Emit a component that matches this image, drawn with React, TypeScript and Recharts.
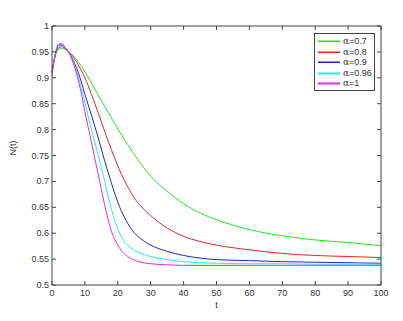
import React from "react";
import { LineChart, Line, XAxis, YAxis, Legend, Label } from "recharts";

const tValues = [0, 1, 2, 3, 4, 5, 6, 7, 8, 9, 10, 12, 14, 16, 17, 18, 19, 20, 21, 22, 23, 25, 27, 30, 35, 40, 45, 50, 60, 70, 80, 90, 100];

const alpha07 = [0.912, 0.942, 0.955, 0.957, 0.955, 0.951, 0.946, 0.939, 0.931, 0.922, 0.912, 0.89, 0.867, 0.845, 0.834, 0.823, 0.812, 0.801, 0.791, 0.781, 0.771, 0.752, 0.734, 0.71, 0.681, 0.657, 0.639, 0.626, 0.607, 0.595, 0.587, 0.582, 0.576];
const alpha08 = [0.912, 0.944, 0.958, 0.96, 0.956, 0.95, 0.944, 0.935, 0.925, 0.913, 0.9, 0.868, 0.833, 0.797, 0.779, 0.762, 0.746, 0.73, 0.715, 0.702, 0.69, 0.668, 0.652, 0.634, 0.61, 0.594, 0.584, 0.577, 0.568, 0.561, 0.557, 0.555, 0.553];
const alpha09 = [0.91, 0.945, 0.962, 0.963, 0.958, 0.95, 0.94, 0.926, 0.91, 0.89, 0.868, 0.828, 0.785, 0.74, 0.719, 0.698, 0.678, 0.66, 0.644, 0.631, 0.619, 0.601, 0.589, 0.577, 0.565, 0.557, 0.552, 0.549, 0.547, 0.545, 0.544, 0.543, 0.542];
const alpha096 = [0.91, 0.946, 0.963, 0.964, 0.958, 0.95, 0.938, 0.922, 0.902, 0.878, 0.852, 0.8, 0.752, 0.7, 0.673, 0.648, 0.626, 0.608, 0.594, 0.584, 0.577, 0.567, 0.561, 0.555, 0.549, 0.545, 0.543, 0.542, 0.541, 0.541, 0.54, 0.54, 0.54];
const alpha1 = [0.905, 0.946, 0.965, 0.966, 0.959, 0.95, 0.936, 0.918, 0.895, 0.867, 0.835, 0.775, 0.715, 0.655, 0.628, 0.605, 0.589, 0.577, 0.567, 0.56, 0.555, 0.548, 0.544, 0.541, 0.539, 0.538, 0.538, 0.538, 0.538, 0.538, 0.538, 0.538, 0.538];

const xTicks = [0, 10, 20, 30, 40, 50, 60, 70, 80, 90, 100];
const yTicks = [0.5, 0.55, 0.6, 0.65, 0.7, 0.75, 0.8, 0.85, 0.9, 0.95, 1];

const series = [
  { key: "a07", label: "0.7", color: "#22e622", values: alpha07 },
  { key: "a08", label: "0.8", color: "#dc2a2a", values: alpha08 },
  { key: "a09", label: "0.9", color: "#2424d0", values: alpha09 },
  { key: "a096", label: "0.96", color: "#28eaea", values: alpha096 },
  { key: "a1", label: "1", color: "#e828e8", values: alpha1 },
];

const data = tValues.map((t, i) => {
  const row: Record<string, number> = { t };
  series.forEach((s) => {
    row[s.key] = s.values[i];
  });
  return row;
});

const AXIS = "#444";
const TEXT = "#333";
const FONT = "'Liberation Sans', Arial, sans-serif";
const TICK_LEN = 4;

const fmt = (v: number) => String(Number(v.toFixed(2)));

function BottomTick(props: any) {
  const { x, y, payload } = props;
  const axisY = y - 3;
  return (
    <g>
      <line x1={x} x2={x} y1={axisY} y2={axisY - TICK_LEN} stroke={AXIS} />
      <text x={x} y={y} dy={8} textAnchor="middle" fontSize={9} fill={TEXT} fontFamily={FONT}>
        {fmt(payload.value)}
      </text>
    </g>
  );
}

function LeftTick(props: any) {
  const { x, y, payload } = props;
  const axisX = x + 3;
  return (
    <g>
      <line x1={axisX} x2={axisX + TICK_LEN} y1={y} y2={y} stroke={AXIS} />
      <text x={x} y={y} dy={3} textAnchor="end" fontSize={9} fill={TEXT} fontFamily={FONT}>
        {fmt(payload.value)}
      </text>
    </g>
  );
}

function TopTick(props: any) {
  const { x, y } = props;
  return <line x1={x} x2={x} y1={y} y2={y + TICK_LEN} stroke={AXIS} />;
}

function RightTick(props: any) {
  const { x, y } = props;
  return <line x1={x} x2={x - TICK_LEN} y1={y} y2={y} stroke={AXIS} />;
}

function LegendBox() {
  return (
    <svg width={61} height={58} style={{ display: "block" }}>
      <rect x={0.5} y={0.5} width={60} height={57} fill="#fff" stroke={AXIS} />
      {series.map((s, i) => {
        const cy = Math.round(8 + i * 10.6);
        return (
          <g key={s.key}>
            <rect x={4} y={cy - 0.5} width={22} height={i > 2 ? 2 : 1.5} fill={s.color} />
            <text x={29} y={cy + 3} fontSize={9} fill={TEXT} fontFamily={FONT}>
              <tspan fontFamily="'DejaVu Serif', serif">α</tspan>={s.label}
            </text>
          </g>
        );
      })}
    </svg>
  );
}

export default function App() {
  return (
    <div style={{ position: "absolute", left: 0, top: 0, width: 403, height: 321, background: "#fff" }}>
      <LineChart width={403} height={321} data={data} margin={{ top: 25, right: 21, bottom: 0, left: 0 }}>
        <XAxis
          dataKey="t"
          type="number"
          domain={[0, 100]}
          ticks={xTicks}
          height={36}
          stroke={AXIS}
          tickLine={false}
          tickSize={0}
          tickMargin={3}
          tick={<BottomTick />}
        >
          <Label value="t" position="insideBottom" offset={13} fontSize={9} fill={TEXT} fontFamily={FONT} />
        </XAxis>
        <XAxis
          xAxisId="top"
          dataKey="t"
          orientation="top"
          type="number"
          domain={[0, 100]}
          ticks={xTicks}
          height={1}
          stroke={AXIS}
          tickLine={false}
          tickSize={0}
          tickMargin={0}
          tick={<TopTick />}
        />
        <YAxis
          type="number"
          domain={[0.5, 1]}
          ticks={yTicks}
          width={52}
          stroke={AXIS}
          tickLine={false}
          tickSize={0}
          tickMargin={3}
          tick={<LeftTick />}
        >
          <Label value="N(t)" angle={-90} position="insideLeft" offset={13} fontSize={9} fill={TEXT} fontFamily={FONT} />
        </YAxis>
        <YAxis
          yAxisId="right"
          orientation="right"
          type="number"
          domain={[0.5, 1]}
          ticks={yTicks}
          width={1}
          stroke={AXIS}
          tickLine={false}
          tickSize={0}
          tickMargin={0}
          tick={<RightTick />}
        />
        <Legend
          layout="vertical"
          align="center"
          verticalAlign="middle"
          wrapperStyle={{ top: 33, left: 314, width: 61 }}
          content={() => <LegendBox />}
        />
        {/* invisible series so the frame axes on top/right get drawn */}
        <Line
          xAxisId="top"
          yAxisId="right"
          dataKey="a1"
          stroke="none"
          dot={false}
          legendType="none"
          isAnimationActive={false}
        />
        {series.map((s) => (
          <Line
            key={s.key}
            type="monotone"
            dataKey={s.key}
            stroke={s.color}
            strokeWidth={1}
            dot={false}
            isAnimationActive={false}
          />
        ))}
      </LineChart>
    </div>
  );
}
